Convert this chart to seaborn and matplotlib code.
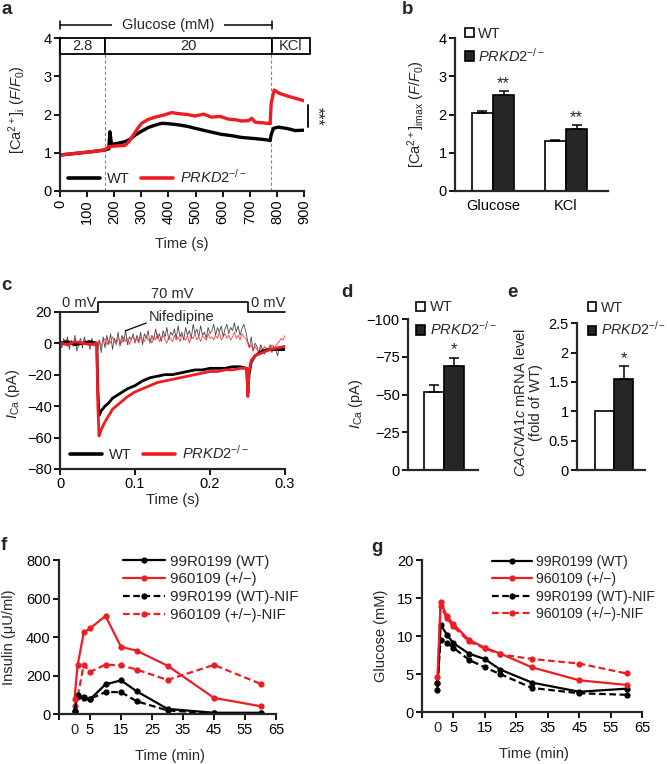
import numpy as np
import pandas as pd
import matplotlib
matplotlib.use('Agg')
import matplotlib.pyplot as plt
import seaborn as sns
from matplotlib.patches import Patch, Rectangle
from matplotlib.lines import Line2D

sns.set_theme(style='ticks')
plt.rcParams['font.family'] = ['Liberation Sans', 'DejaVu Sans']
plt.rcParams.update({
    'mathtext.fontset': 'custom',
    'mathtext.rm': 'Liberation Sans',
    'mathtext.it': 'Liberation Sans:italic',
    'mathtext.bf': 'Liberation Sans:bold',
    'axes.unicode_minus': True,
})

RED = '#ee1d23'
DARK = '#262626'
FS = 10.5
KO = r'$\mathit{PRKD2}^{\mathit{-/-}}$'

# ---- a: Ca2+ imaging traces ----
ca_t_wt = [0, 40, 80, 120, 163, 180, 184, 190, 215, 240, 260, 277, 300, 326, 350, 375, 400, 436,
           470, 498, 540, 596, 630, 670, 720, 760, 775, 780, 788, 806, 840, 868, 900]
ca_wt = [0.94, 0.97, 1.00, 1.03, 1.07, 1.10, 1.55, 1.22, 1.25, 1.29, 1.36, 1.46, 1.56, 1.66, 1.72,
         1.77, 1.76, 1.73, 1.69, 1.64, 1.57, 1.48, 1.45, 1.40, 1.37, 1.34, 1.32, 1.50, 1.64, 1.67,
         1.63, 1.58, 1.59]
ca_t_ko = [0, 40, 80, 120, 163, 182, 210, 240, 255, 270, 285, 301, 325, 350, 380, 412, 440, 470,
           498, 530, 559, 590, 621, 650, 670, 695, 707, 720, 750, 775, 779, 790, 810, 841, 870, 900]
ca_ko = [0.94, 0.97, 1.00, 1.03, 1.07, 1.16, 1.18, 1.19, 1.30, 1.46, 1.62, 1.77, 1.87, 1.93, 1.98,
         2.05, 2.02, 2.00, 1.96, 2.01, 1.93, 1.95, 1.88, 1.86, 1.83, 1.84, 1.90, 1.80, 1.78, 1.76,
         2.30, 2.64, 2.55, 2.48, 2.42, 2.36]

# ---- b: peak Ca2+ ----
b_cond = ['Glucose', 'KCl', 'Glucose', 'KCl']
b_geno = ['WT', 'WT', 'KO', 'KO']
b_val = [2.05, 1.31, 2.52, 1.62]
b_err = [0.03, 0.03, 0.10, 0.10]

# ---- c: Ca currents ----
ic_t = [0, 0.01, 0.02, 0.03, 0.04, 0.049, 0.0505, 0.052, 0.055, 0.06, 0.065, 0.07, 0.08, 0.09, 0.1,
        0.11, 0.12, 0.13, 0.14, 0.15, 0.16, 0.17, 0.18, 0.19, 0.2, 0.21, 0.22, 0.23, 0.24, 0.249,
        0.2505, 0.252, 0.255, 0.26, 0.27, 0.28, 0.29, 0.3]
ic_wt = [0, 1, -1, 0, 1, 0, -30, -46, -43, -40, -38, -35, -32, -29, -27, -24, -22, -21, -20, -20,
         -19, -18, -17, -17, -16, -16, -16, -15, -15, -16, -32, -20, -12, -8, -5, -4, -4, -4]
ic_ko = [0, -1, 1, 0, -1, 0, -40, -59, -55, -50, -46, -42, -38, -34, -31, -29, -27, -25, -24, -23,
         -22, -21, -20, -19, -18, -18, -17, -17, -16, -16, -34, -18, -11, -8, -6, -4, -3, -2]
nif_t = np.round(np.arange(0, 0.30001, 0.0025), 4)
nif_wt = [1, -3, 3, -1, 4, -4, 2, -2, 5, -5, 0, 3, -3, 4, -1, 2, -4, 3, -2, 1, -5,
          2, -6, 4, -3, 5, -1, 6, -4, 3, 0, 7, -2, 5, 1, 8, -1, 4, 2, 6, 0,
          5, 1, 7, -1, 6, 3, 8, 0, 5, 2, 9, 3, 6, 1, 8, 4, 10, 2, 7, 5,
          9, 3, 11, 4, 7, 2, 10, 5, 8, 3, 12, 6, 9, 4, 11, 5, 7, 3, 10, 6,
          8, 12, 5, 10, 7, 11, 4, 9, 12, 6, 10, 8, 13, 7, 11, 5, 9, 12, 8, 2,
          -3, 4, -5, 0, -2, -6, -1, -4, -7, -3, -5, -1, -6, -2, -4, -8, -3, -5, -2, -4]
nif_ko = [0, 1, -1, 2, -2, 1, 0, -1, 2, 0, -2, 1, -1, 2, 0, 1, -2, 1, 0, -1, 0,
          2, -2, 1, 3, -1, 2, 0, 4, 1, -1, 3, 2, 0, 4, 1, 3, -1, 2, 5, 1,
          3, 0, 4, 2, 1, 5, 2, 3, 0, 4, 2, 6, 1, 3, 5, 2, 0, 4, 3, 1,
          5, 2, 4, 1, 6, 3, 2, 5, 0, 4, 3, 6, 2, 4, 1, 5, 3, 2, 6, 3,
          4, 2, 5, 3, 7, 2, 4, 6, 3, 5, 2, 4, 7, 3, 5, 2, 6, 4, 3, 0,
          -3, -1, -5, -2, -4, -6, -3, -5, -2, -4, -3, -5, -1, -3, -2, 0, 1, 3, 2, 5]

# ---- d / e ----
d_geno = ['WT', 'KO']
d_val = [-51.5, -69.0]
d_err = [5.0, 5.0]
e_val = [1.0, 1.55]
e_err = [0.0, 0.23]

# ---- f / g: in vivo ----
times = [0, 1, 3, 5, 10, 15, 20, 30, 45, 60]
ins_wt = [15, 100, 85, 78, 155, 176, 120, 28, 8, 8]
ins_het = [80, 255, 425, 445, 510, 350, 330, 252, 85, 42]
ins_wt_nif = [15, 95, 88, 80, 115, 115, 68, 20, 5, 5]
ins_het_nif = [45, 90, 258, 220, 257, 254, 232, 178, 256, 158]
glu_wt = [2.9, 11.5, 10.2, 9.1, 7.7, 7.0, 5.6, 3.9, 2.7, 3.1]
glu_het = [4.6, 14.5, 12.6, 11.6, 9.5, 8.5, 7.7, 5.9, 4.2, 3.6]
glu_wt_nif = [3.8, 9.5, 9.1, 8.5, 6.9, 5.9, 5.0, 3.2, 2.5, 2.3]
glu_het_nif = [3.8, 13.9, 12.4, 11.3, 9.3, 8.4, 7.6, 7.0, 6.4, 5.1]
series_names = ['99R0199 (WT)', '960109 (+/\u2212)', '99R0199 (WT)-NIF', '960109 (+/\u2212)-NIF']


def style(ax):
    sns.despine(ax=ax)
    for s in ['left', 'bottom']:
        ax.spines[s].set_linewidth(1.6)
    ax.tick_params(width=1.3, length=4, labelsize=FS, direction='out', pad=2, colors='black')


W, H = 667, 764
fig = plt.figure(figsize=(W / 100, H / 100), dpi=100)


def add_ax(l, r, t, b):
    return fig.add_axes([l / W, 1 - b / H, (r - l) / W, (b - t) / H])


ax_a = add_ax(60, 304, 38, 191)
ax_b = add_ax(455, 608, 38, 191)
ax_c = add_ax(60, 285, 311.7, 469)
ax_d = add_ax(408, 478, 319.3, 470)
ax_e = add_ax(577, 645, 323.3, 470)
ax_f = add_ax(59, 276, 560, 714.3)
ax_g = add_ax(421.7, 642.3, 560, 712.3)

sq = [Patch(facecolor='white', edgecolor='black', lw=1.2), Patch(facecolor=DARK, edgecolor='black', lw=1.2)]
leg_lines = [Line2D([], [], color='black', lw=2.6), Line2D([], [], color=RED, lw=2.6)]

# ---------- a ----------
ax = ax_a
for x0 in [166, 777]:
    ax.plot([x0, x0], [0, 3.57], color='#888888', lw=0.8, ls=(0, (3, 2)))
sns.lineplot(x=ca_t_wt, y=ca_wt, color='black', lw=2.4, ax=ax, sort=False, errorbar=None)
sns.lineplot(x=ca_t_ko, y=ca_ko, color=RED, lw=2.4, ax=ax, sort=False, errorbar=None)
for x0, w, lab in [(0, 166, '2.8'), (166, 615, '20'), (781, 141, 'KCl')]:
    ax.add_patch(Rectangle((x0, 3.57), w, 0.43, facecolor='white', edgecolor='black',
                           lw=1.3, clip_on=False, zorder=5))
    ax.text(x0 + w / 2, 3.785, lab, ha='center', va='center', fontsize=FS, zorder=6)
ax.plot([0, 781], [4.34, 4.34], color='black', lw=1.1, clip_on=False)
for x0 in [0, 781]:
    ax.plot([x0, x0], [4.24, 4.45], color='black', lw=1.1, clip_on=False)
ax.text(400, 4.34, 'Glucose (mM)', ha='center', va='center', fontsize=FS,
        bbox=dict(facecolor='white', edgecolor='none', pad=7))
ax.plot([915, 915], [1.67, 2.25], color='black', lw=1.3, clip_on=False)
ax.text(950, 1.96, '***', rotation=270, ha='center', va='center', fontsize=FS + 1)
ax.set_xlim(0, 900)
ax.set_ylim(0, 4)
ax.set_xticks(range(0, 901, 100))
ax.set_yticks(range(0, 5))
style(ax)
ax.tick_params(axis='x', labelrotation=90)
ax.set_xlabel('Time (s)', fontsize=FS, va='top')
ax.xaxis.set_label_coords(0.5, -0.3)
ax.set_ylabel(r'[Ca$^{2+}$]$_{\rm i}$ ($F$/$F_0$)', fontsize=FS)
ax.yaxis.set_label_coords(-0.13, 0.53)
ax.legend(leg_lines, ['WT', KO], ncol=2, frameon=False, loc='center left',
          bbox_to_anchor=(0.033, 0.092), handlelength=2.2, handletextpad=0.45,
          columnspacing=0.8, fontsize=FS, borderpad=0, borderaxespad=0)

# ---------- b ----------
ax = ax_b
dfb = pd.DataFrame({'cond': b_cond, 'geno': b_geno, 'val': b_val})
sns.barplot(data=dfb, x='cond', y='val', hue='geno', hue_order=['WT', 'KO'],
            palette={'WT': 'white', 'KO': DARK}, edgecolor='black', linewidth=1.2,
            width=0.58, legend=False, errorbar=None, ax=ax)
bars = [p for p in ax.patches]
for p, v, e in zip(bars, b_val, b_err):
    xc = p.get_x() + p.get_width() / 2
    ax.errorbar(xc, v, yerr=[[0], [e]], color='black', capsize=3.5, lw=1.1, capthick=1.1)
for p, v, e in zip(bars[2:], b_val[2:], b_err[2:]):
    xc = p.get_x() + p.get_width() / 2
    ax.text(xc, v + e + 0.2, '**', ha='center', va='center', fontsize=FS + 1.5)
ax.set_xlim(-0.52, 1.575)
ax.set_ylim(0, 4)
ax.set_yticks(range(0, 5))
style(ax)
ax.tick_params(axis='x', length=0, pad=6)
ax.set_xlabel('')
ax.set_ylabel(r'[Ca$^{2+}$]$_{\rm imax}$ ($F$/$F_0$)', fontsize=FS)
ax.yaxis.set_label_coords(-0.18, 0.5)
ax.legend(sq, ['WT', KO], frameon=False, loc='upper left', bbox_to_anchor=(0.065, 1.075),
          handlelength=0.6, handleheight=0.6, handletextpad=0.3, labelspacing=0.4,
          fontsize=FS, borderpad=0, borderaxespad=0)

# ---------- c ----------
ax = ax_c
sns.lineplot(x=nif_t, y=nif_wt, color='#444444', lw=0.6, ax=ax, sort=False, errorbar=None)
sns.lineplot(x=nif_t, y=nif_ko, color='#ff3b3b', lw=0.6, ax=ax, sort=False, errorbar=None)
sns.lineplot(x=ic_t, y=ic_wt, color='black', lw=2.0, ax=ax, sort=False, errorbar=None)
sns.lineplot(x=ic_t, y=ic_ko, color=RED, lw=2.0, ax=ax, sort=False, errorbar=None)
ax.plot([0, 0.05, 0.05, 0.25, 0.25, 0.3], [20, 20, 26, 26, 20, 20], color='black', lw=1.2,
        clip_on=False)
ax.text(0.025, 25.5, '0 mV', ha='center', va='center', fontsize=FS)
ax.text(0.15, 31, '70 mV', ha='center', va='center', fontsize=FS)
ax.text(0.278, 25.5, '0 mV', ha='center', va='center', fontsize=FS)
ax.text(0.118, 16.8, 'Nifedipine', ha='left', va='center', fontsize=FS)
ax.plot([0.087, 0.115], [7.8, 12.8], color='black', lw=0.9)
ax.set_xlim(0, 0.3)
ax.set_ylim(-80, 20)
ax.set_yticks(range(-80, 21, 20))
ax.set_xticks([0, 0.1, 0.2, 0.3])
ax.set_xticklabels(['0', '0.1', '0.2', '0.3'])
style(ax)
ax.set_xlabel('Time (s)', fontsize=FS, va='top')
ax.xaxis.set_label_coords(0.5, -0.155)
ax.set_ylabel(r'$I_{\rm Ca}$ (pA)', fontsize=FS)
ax.yaxis.set_label_coords(-0.17, 0.48)
ax.legend(leg_lines, ['WT', KO], ncol=2, frameon=False, loc='center left',
          bbox_to_anchor=(0.044, 0.102), handlelength=2.2, handletextpad=0.45,
          columnspacing=0.8, fontsize=FS, borderpad=0, borderaxespad=0)

# ---------- d ----------
ax = ax_d
dfd = pd.DataFrame({'geno': d_geno, 'val': d_val})
sns.barplot(data=dfd, x='geno', y='val', hue='geno', palette={'WT': 'white', 'KO': DARK},
            edgecolor='black', linewidth=1.2, width=1.0, legend=False, errorbar=None, ax=ax)
for i, (v, e) in enumerate(zip(d_val, d_err)):
    ax.errorbar(i, v, yerr=[[e], [0]], color='black', capsize=3.5, lw=1.1, capthick=1.1)
ax.text(1, -80, '*', ha='center', va='center', fontsize=FS + 1.5)
ax.set_xlim(-1.3, 2.2)
ax.set_ylim(0, -100)
ax.set_yticks([0, -25, -50, -75, -100])
style(ax)
ax.set_xticks([])
ax.set_xlabel('')
ax.set_ylabel(r'$I_{\rm Ca}$ (pA)', fontsize=FS)
ax.yaxis.set_label_coords(-0.61, 0.44)
ax.legend(sq, ['WT', KO], frameon=False, loc='upper left', bbox_to_anchor=(0.12, 1.125),
          handlelength=0.6, handleheight=0.6, handletextpad=0.3, labelspacing=0.4,
          fontsize=FS, borderpad=0, borderaxespad=0)

# ---------- e ----------
ax = ax_e
dfe = pd.DataFrame({'geno': d_geno, 'val': e_val})
sns.barplot(data=dfe, x='geno', y='val', hue='geno', palette={'WT': 'white', 'KO': DARK},
            edgecolor='black', linewidth=1.2, width=1.0, legend=False, errorbar=None, ax=ax)
ax.errorbar(1, e_val[1], yerr=[[0], [e_err[1]]], color='black', capsize=3.5, lw=1.1, capthick=1.1)
ax.text(1, 1.9, '*', ha='center', va='center', fontsize=FS + 1.5)
ax.set_xlim(-1.45, 2.13)
ax.set_ylim(0, 2.5)
ax.set_yticks([0, 0.5, 1, 1.5, 2, 2.5])
ax.set_yticklabels(['0', '0.5', '1', '1.5', '2', '2.5'])
style(ax)
ax.set_xticks([])
ax.set_xlabel('')
ax.set_ylabel(r'$\mathit{CACNA1c}$ mRNA level' + '\n(fold of WT)', fontsize=FS,
              linespacing=1.1)
ax.yaxis.set_label_coords(-0.5, 0.46)
ax.legend(sq, ['WT', KO], frameon=False, loc='upper left', bbox_to_anchor=(0.16, 1.155),
          handlelength=0.6, handleheight=0.6, handletextpad=0.3, labelspacing=0.4,
          fontsize=FS - 0.3, borderpad=0, borderaxespad=0)


# ---------- f / g ----------
def time_course(ax, ys, ylim, yticks, ylabel, anchor_x, lab_x, leg_fs):
    styles = [('black', '-'), (RED, '-'), ('black', (0, (3, 1.6))), (RED, (0, (3, 1.6)))]
    order = [3, 2, 0, 1]
    for i in order:
        c, ls = styles[i]
        sns.lineplot(x=times, y=ys[i], color=c, linestyle=ls, lw=1.6, marker='o',
                     markersize=4.5, markeredgewidth=0, ax=ax, sort=False, errorbar=None)
    ax.set_xlim(-5, 65)
    ax.set_ylim(*ylim)
    ax.set_yticks(yticks)
    ax.set_xticks(range(-5, 66, 10))
    ax.set_xticklabels([''] + [str(v) for v in range(5, 66, 10)])
    ax.set_xticks([0], minor=True)
    ax.set_xticklabels(['0'], minor=True)
    style(ax)
    ax.tick_params(axis='x', which='minor', length=0, pad=6, labelsize=FS)
    ax.set_xlabel('Time (min)', fontsize=FS, va='top')
    ax.xaxis.set_label_coords(0.51, -0.228)
    ax.set_ylabel(ylabel, fontsize=FS)
    ax.yaxis.set_label_coords(lab_x, 0.5)
    hs = [Line2D([], [], color=c, ls=ls, lw=1.6, marker='o', markersize=4.5, markeredgewidth=0)
          for c, ls in styles]
    ax.legend(hs, series_names, frameon=False, loc='upper left', bbox_to_anchor=(anchor_x, 1.035),
              handlelength=2.8, handletextpad=0.35, labelspacing=0.25, fontsize=leg_fs,
              borderpad=0, borderaxespad=0)


time_course(ax_f, [ins_wt, ins_het, ins_wt_nif, ins_het_nif], (0, 800), range(0, 801, 200),
            'Insulin (\u03bcU/ml)', 0.295, -0.2, FS + 0.3)
time_course(ax_g, [glu_wt, glu_het, glu_wt_nif, glu_het_nif], (0, 20), range(0, 21, 5),
            'Glucose (mM)', 0.32, -0.155, FS - 0.4)

# panel letters
for lab, x, y in [('a', 1, 10), ('b', 402, 10), ('c', 1, 285), ('d', 341, 293), ('e', 507, 293),
                  ('f', 1, 545), ('g', 371, 547)]:
    fig.text(x / W, 1 - y / H, lab, fontsize=13.5, fontweight='bold', ha='left', va='center')

fig.savefig('out.png', dpi=100)
